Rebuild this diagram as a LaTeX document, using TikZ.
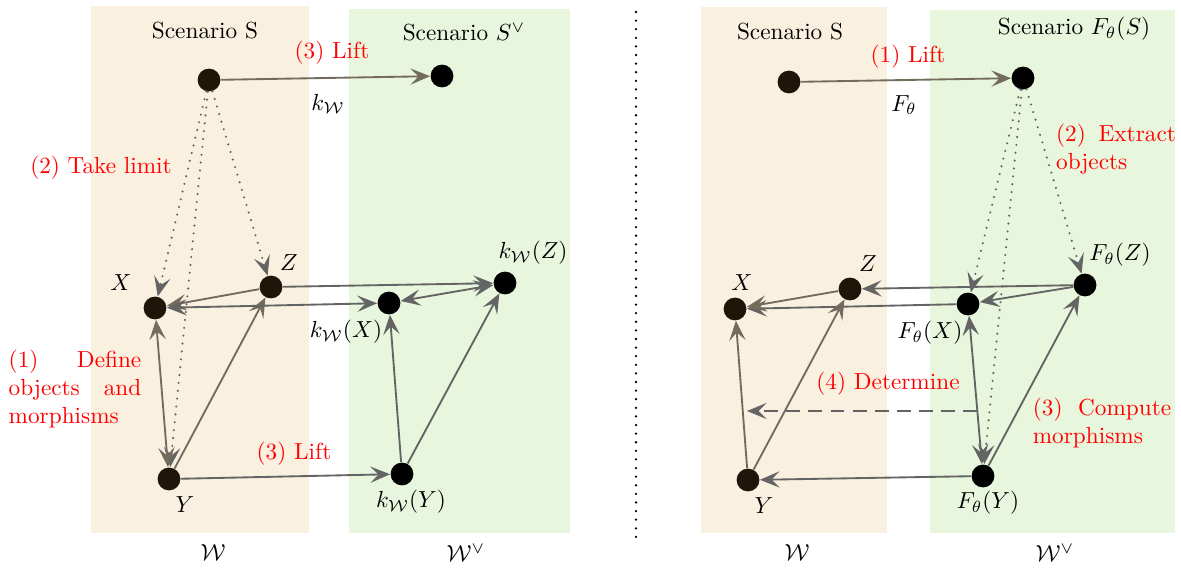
\documentclass[tikz,border=0pt]{standalone}
\usepackage{amsmath}
\usepackage{amssymb}
\usepackage{xcolor}
\usetikzlibrary{arrows.meta,positioning}
\definecolor{wfill}{RGB}{250,240,224}
\definecolor{vfill}{RGB}{233,246,222}
\definecolor{wdot}{RGB}{30,22,8}
\definecolor{wline}{RGB}{115,108,92}
\definecolor{vline}{RGB}{100,100,100}

\begin{document}
\begin{tikzpicture}[
  x=0.43pt, y=-0.43pt,
  >={Stealth[length=8.5pt,width=7pt,inset=3.5pt]},
  obj/.style={circle, fill=#1, minimum size=9.8pt, inner sep=0pt},
  lbl/.style={inner sep=1pt},
  note/.style={text=red, inner sep=1pt},
  para/.style={note, align=justify, text width=#1},
  wedge/.style={->, line width=0.8pt, draw=wline},
  vedge/.style={->, line width=0.8pt, draw=vline},
  limit/.style={->, draw=vline, line width=1pt, line cap=round, dash pattern=on 0pt off 3.4pt},
  sep/.style={line width=1.1pt, line cap=round, dash pattern=on 0pt off 3.7pt}
]
  \useasboundingbox (0,0) rectangle (1181,569);

  \fill[wfill] (91,6) rectangle (309,533);
  \fill[vfill] (349,9) rectangle (570,533);
  \fill[wfill] (701,7) rectangle (887,533);
  \fill[vfill] (930,10) rectangle (1175,533);
  \draw[sep] (636,12) -- (636,538);

  \node[lbl] (ltitleW) at (205,31) {Scenario S};
  \node[lbl] (ltitleV) at (464,32) {Scenario $S^{\vee}$};
  \node[lbl] (rtitleW) at (790,32) {Scenario S};
  \node[lbl] (rtitleV) at (1074,29) {Scenario $F_\theta(S)$};
  \node[lbl] (lcatW) at (213,553) {$\mathcal{W}$};
  \node[lbl] (lcatV) at (466,553) {$\mathcal{W}^{\vee}$};
  \node[lbl] (rcatW) at (797,553) {$\mathcal{W}$};
  \node[lbl] (rcatV) at (1055,553) {$\mathcal{W}^{\vee}$};

  \node[obj=wdot] (lS) at (209,80) {};
  \node[obj=black] (lSv) at (442,76) {};
  \node[obj=wdot] (lX) at (155,308) {};
  \node[obj=wdot] (lZ) at (271,287) {};
  \node[obj=wdot] (lY) at (169,479) {};
  \node[obj=black] (lkX) at (389,303) {};
  \node[obj=black] (lkZ) at (505,283) {};
  \node[obj=black] (lkY) at (402,474) {};

  \node[lbl] (lXl) at (121,283) {$X$};
  \node[lbl] (lZl) at (289,263) {$Z$};
  \node[lbl] (lYl) at (185,505) {$Y$};
  \node[lbl] (lkXl) at (346,332) {$k_{\mathcal{W}}(X)$};
  \node[lbl] (lkZl) at (533,253) {$k_{\mathcal{W}}(Z)$};
  \node[lbl] (lkYl) at (411,502) {$k_{\mathcal{W}}(Y)$};
  \node[lbl] (lkW) at (328,104) {$k_{\mathcal{W}}$};

  \node[note] (llift) at (332,53) {(3) Lift};
  \node[note] (llimit) at (101,168) {(2) Take limit};
  \node[note] (llift2) at (294,454) {(3) Lift};
  \node[para=57pt] (ldefine) at (75,389) {\hyphenpenalty=10000\tolerance=10000 (1) Define objects and morphisms};

  \draw[wedge] (lS) -- (lSv);
  \draw[limit] (lS) -- (lX);
  \draw[limit] (lS) -- (lZ);
  \draw[limit] (lS) -- (lY);
  \draw[wedge, <->] (lX) -- (lY);
  \draw[wedge] (lY) -- (lZ);
  \draw[wedge] (lZ) -- (lX);
  \draw[vedge, <->] (lX) -- (lkX);
  \draw[vedge] (lZ) -- (lkZ);
  \draw[vedge, <->] (lkX) -- (lkZ);
  \draw[vedge] (lkY) -- (lkX);
  \draw[vedge] (lkY) -- (lkZ);
  \draw[vedge] (lY) -- (lkY);

  \node[obj=wdot] (rS) at (789,82) {};
  \node[obj=black] (rF) at (1023,78) {};
  \node[obj=wdot] (rX) at (735,309) {};
  \node[obj=wdot] (rZ) at (850,289) {};
  \node[obj=wdot] (rY) at (748,480) {};
  \node[obj=black] (rFX) at (968,304) {};
  \node[obj=black] (rFZ) at (1085,285) {};
  \node[obj=black] (rFY) at (983,476) {};

  \node[lbl] (rXl) at (742,283) {$X$};
  \node[lbl] (rZl) at (868,264) {$Z$};
  \node[lbl] (rYl) at (764,506) {$Y$};
  \node[lbl] (rFXl) at (930,333) {$F_\theta(X)$};
  \node[lbl] (rFZl) at (1120,255) {$F_\theta(Z)$};
  \node[lbl] (rFYl) at (988,503) {$F_\theta(Y)$};
  \node[lbl] (rFt) at (904,105) {$F_\theta$};

  \node[note] (rlift) at (908,57) {(1) Lift};
  \node[para=51.5pt] (rextract) at (1116,149) {\hyphenpenalty=10000\tolerance=10000 (2) Extract objects};
  \node[para=59.5pt] (rcompute) at (1102,423) {\hyphenpenalty=10000\tolerance=10000 (3) Compute morphisms};
  \node[note] (rdetermine) at (888,384) {(4) Determine};

  \coordinate (dstart) at (977,411);
  \coordinate (dend) at (747,411);

  \draw[wedge] (rS) -- (rF);
  \draw[limit] (rF) -- (rFX);
  \draw[limit] (rF) -- (rFZ);
  \draw[limit] (rF) -- (rFY);
  \draw[vedge, <->] (rFX) -- (rFY);
  \draw[vedge] (rFY) -- (rFZ);
  \draw[vedge] (rFZ) -- (rFX);
  \draw[vedge] (rFZ) -- (rZ);
  \draw[vedge] (rFX) -- (rX);
  \draw[wedge] (rZ) -- (rX);
  \draw[wedge] (rY) -- (rX);
  \draw[wedge] (rY) -- (rZ);
  \draw[vedge] (rFY) -- (rY);
  \draw[vedge, dash pattern=on 6pt off 3.5pt] (dstart) -- (dend);
\end{tikzpicture}
\end{document}
